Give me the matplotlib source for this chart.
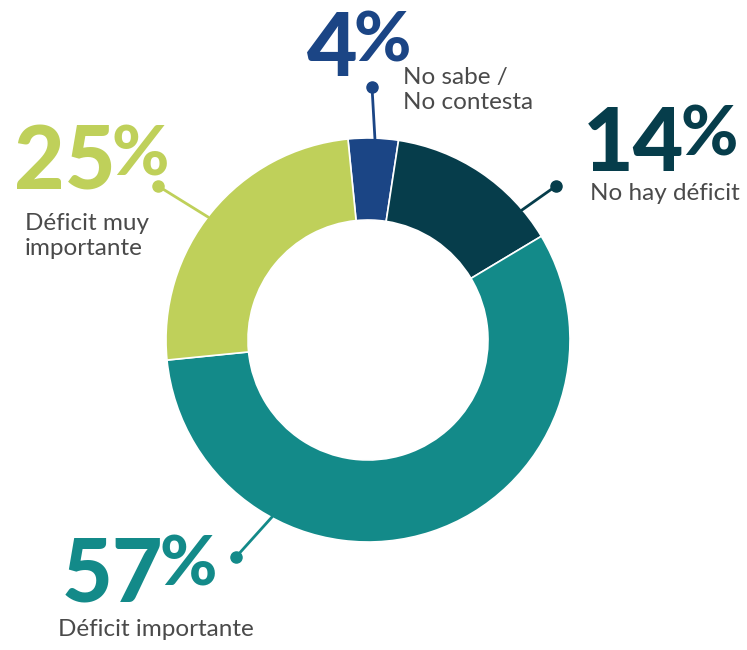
import matplotlib.pyplot as plt

# datos
labels = ["No sabe /\nNo contesta", "No hay déficit", "Déficit importante", "Déficit muy\nimportante"]
values = [4, 14, 57, 25]
colors = ["#1B4585", "#063D4B", "#138A89", "#BFD05A"]

W, H = 747, 650
fig = plt.figure(figsize=(W / 100, H / 100), dpi=100)
ax = fig.add_axes([0, 0, 1, 1])

cx, cy, r = 368, H - 340, 202
ax.pie(values, colors=colors, startangle=95.7, counterclock=False,
       center=(cx, cy), radius=r, frame=True,
       wedgeprops=dict(width=82, edgecolor="white", linewidth=1.2))
ax.set_xlim(0, W)
ax.set_ylim(0, H)
ax.set_aspect("equal")
ax.axis("off")

fam = ["Lato", "DejaVu Sans"]
small = dict(family=fam, fontsize=17.5, color="#4a4a4a", linespacing=1.22)

# (línea desde, punto, x izq. de cifras, base de cifras, posición etiqueta)
layout = [
    ((375, 140), (372, 87), (307, 76), (403, 67)),
    ((522, 210), (556, 186), (583, 171), (590, 183)),
    ((272, 517), (236, 557), (62, 601), (58, 619)),
    ((208, 217), (158, 186), (14, 190), (25, 213)),
]

renderer = fig.canvas.get_renderer()
for i, (p0, dot, ppos, lpos) in enumerate(layout):
    c = colors[i]
    ax.plot([p0[0], dot[0]], [H - p0[1], H - dot[1]], color=c, lw=2, solid_capstyle="round")
    ax.plot(dot[0], H - dot[1], "o", color=c, ms=8)
    num = ax.text(ppos[0], H - ppos[1], str(values[i]), color=c, ha="left", va="baseline",
                  family=fam, fontweight="black", fontsize=63)
    bb = num.get_window_extent(renderer)
    ax.text(bb.x1 - 4, H - ppos[1] + 66, "%", color=c, ha="left", va="top",
            family=fam, fontweight="black", fontsize=50)
    ax.text(lpos[0], H - lpos[1], labels[i], ha="left", va="top", **small)

fig.savefig("out.png", dpi=100, facecolor="white")
